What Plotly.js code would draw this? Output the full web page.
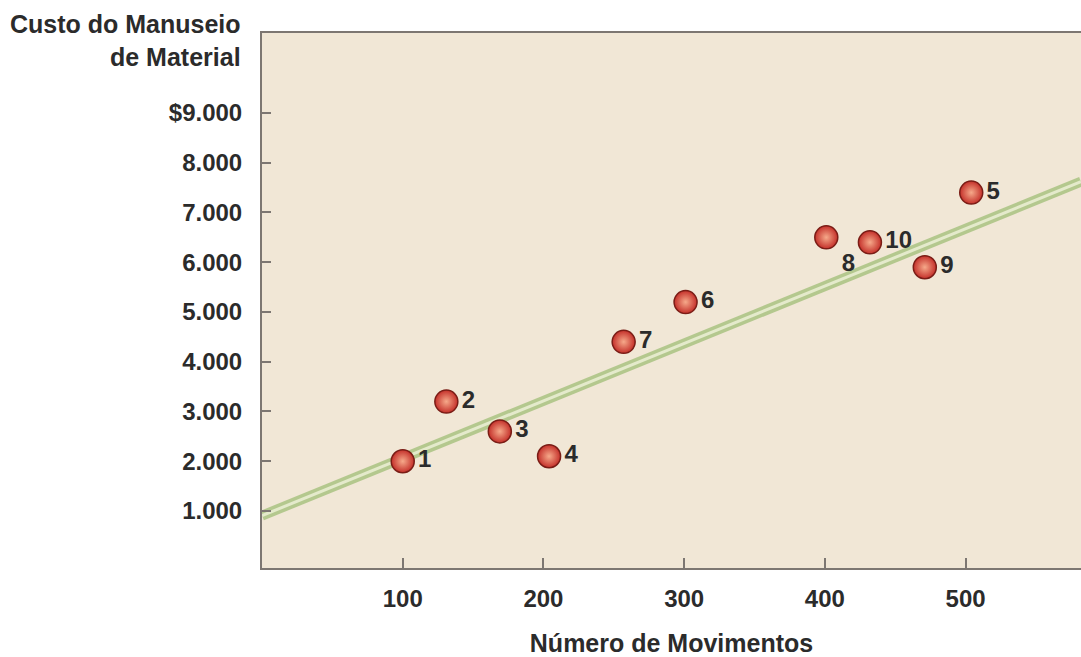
<!DOCTYPE html>
<html>
<head>
<meta charset="utf-8">
<script src="https://cdn.plot.ly/plotly-3.0.1.min.js"></script>
<style>
  html, body { margin: 0; padding: 0; background: #ffffff; }
  #chart { width: 1081px; height: 657px; }
</style>
</head>
<body>
<div id="chart"></div>
<script>
// Data
const pointLabels = ["1", "2", "3", "4", "5", "6", "7", "8", "9", "10"];
const movimentos = [100, 131, 169, 204, 504, 301, 257, 401, 471, 432];
const custo = [2000, 3200, 2600, 2100, 7400, 5200, 4400, 6500, 5900, 6400];
const labelPos = ["middle right", "middle right", "middle right", "middle right", "middle right",
                  "middle right", "middle right", "bottom right", "middle right", "middle right"];

// Trend line end points (as drawn in the reference)
const trendX = [0, 582];
const trendY = [907, 7620];

// Axis ticks
const xTickVals = [100, 200, 300, 400, 500];
const xTickText = ["100", "200", "300", "400", "500"];
const yTickVals = [1000, 2000, 3000, 4000, 5000, 6000, 7000, 8000, 9000];
const yTickText = ["1.000", "2.000", "3.000", "4.000", "5.000", "6.000", "7.000", "8.000", "$9.000"];

const FONT = "Liberation Sans, Arial, Helvetica, sans-serif";
const TXT = "#2b2b2b";
const AXC = "#7d7772";

const traces = [
  {
    x: trendX, y: trendY, mode: "lines", hoverinfo: "skip", showlegend: false,
    line: { color: "#b4c88e", width: 10 }
  },
  {
    x: trendX, y: trendY, mode: "lines", hoverinfo: "skip", showlegend: false,
    line: { color: "#e4eacb", width: 3 }
  },
  {
    x: movimentos, y: custo, mode: "markers+text", showlegend: false,
    text: pointLabels, textposition: labelPos,
    textfont: { family: FONT, size: 24, color: TXT, weight: "bold" },
    marker: {
      size: 23, color: "#c4302a",
      gradient: { type: "radial", color: "#f6a98a" },
      line: { color: "#7a1d16", width: 1.5 }
    }
  }
];

const layout = {
  width: 1081, height: 657,
  margin: { l: 262, r: 0, t: 33, b: 89, pad: 0 },
  paper_bgcolor: "#ffffff",
  plot_bgcolor: "#f1e7d6",
  font: { family: FONT, color: TXT },
  showlegend: false,
  xaxis: {
    range: [0, 582], tickvals: xTickVals, ticktext: xTickText,
    showgrid: false, zeroline: false,
    showline: true, linecolor: AXC, linewidth: 2, mirror: true,
    ticks: "inside", ticklen: 10, tickwidth: 2, tickcolor: AXC,
    tickfont: { family: FONT, size: 24, color: TXT, weight: "bold" },
    ticklabelstandoff: 8,
    title: { text: "Número de Movimentos", font: { family: FONT, size: 25, color: TXT, weight: "bold" }, standoff: 33 }
  },
  yaxis: {
    range: [-146, 10608], tickvals: yTickVals, ticktext: yTickText,
    showgrid: false, zeroline: false,
    showline: true, linecolor: AXC, linewidth: 2, mirror: false,
    ticks: "inside", ticklen: 9, tickwidth: 2, tickcolor: AXC,
    tickfont: { family: FONT, size: 24, color: TXT, weight: "bold" },
    ticklabelstandoff: 13
  },
  annotations: [
    {
      text: "Custo do Manuseio", xref: "paper", yref: "paper",
      x: -19 / 819, y: (568 - 24) / 535, xanchor: "right", yanchor: "middle",
      showarrow: false, align: "right",
      font: { family: FONT, size: 25, color: TXT, weight: "bold" }
    },
    {
      text: "de Material", xref: "paper", yref: "paper",
      x: -19 / 819, y: (568 - 57) / 535, xanchor: "right", yanchor: "middle",
      showarrow: false, align: "right",
      font: { family: FONT, size: 25, color: TXT, weight: "bold" }
    }
  ]
};

Plotly.newPlot("chart", traces, layout, { displayModeBar: false, staticPlot: true });
</script>
</body>
</html>
